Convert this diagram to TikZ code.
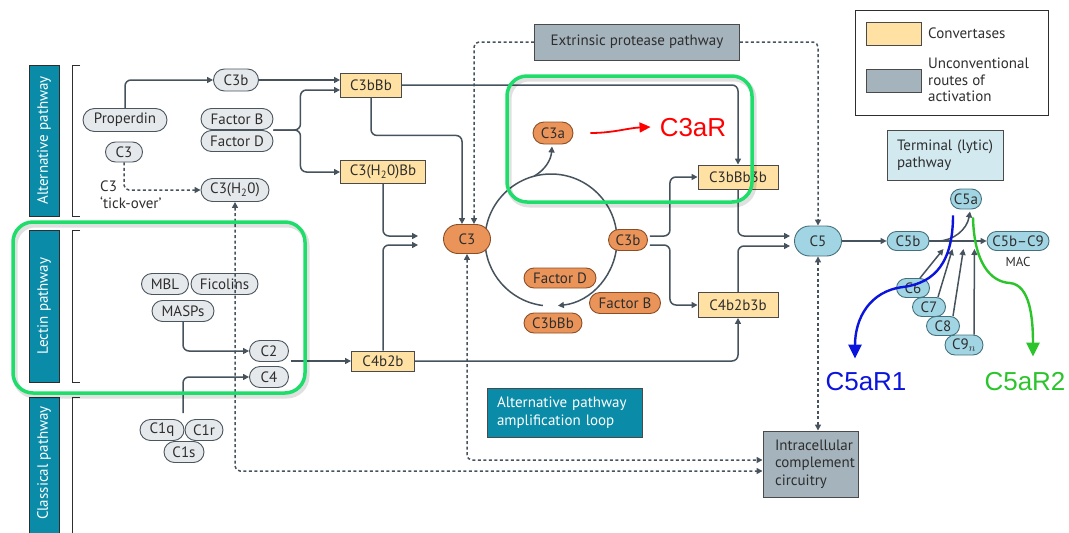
\documentclass[tikz,border=0pt]{standalone}
\usepackage{fontspec}
\setmainfont{PT Sans}
\newfontfamily\labelfont{Liberation Sans}
\usetikzlibrary{arrows.meta, shapes.misc, calc, backgrounds}

\definecolor{linec}{HTML}{46535D}
\definecolor{pillfill}{HTML}{E6E9EC}
\definecolor{pillline}{HTML}{4A555E}
\definecolor{orfill}{HTML}{EA945A}
\definecolor{orline}{HTML}{8A4E26}
\definecolor{convfill}{HTML}{FFE1A3}
\definecolor{convline}{HTML}{4A4A4A}
\definecolor{uncfill}{HTML}{A5B3BC}
\definecolor{bluefill}{HTML}{A2D5E3}
\definecolor{blueline}{HTML}{44707C}
\definecolor{termfill}{HTML}{D2E9F0}
\definecolor{tealc}{HTML}{0A8CA8}
\definecolor{txtc}{HTML}{2E2E2E}
\definecolor{hlgreen}{HTML}{1EDD6A}
\definecolor{recblue}{HTML}{0A14DC}
\definecolor{recgreen}{HTML}{2BC42B}
\definecolor{recred}{HTML}{FF0000}

\tikzset{
  wh/.style 2 args={minimum width=#1, minimum height=#2},
  pill/.style={rounded rectangle, draw=pillline, fill=pillfill, line width=0.9pt,
    inner sep=0pt, text=txtc, font=\fontsize{15}{17}\selectfont},
  opill/.style={pill, draw=orline, fill=orfill},
  bpill/.style={pill, draw=blueline, fill=bluefill},
  conv/.style={rectangle, draw=convline, fill=convfill, line width=0.9pt,
    inner sep=0pt, text=txtc, font=\fontsize{15}{17}\selectfont},
  unconv/.style={conv, fill=uncfill},
  sidebox/.style={rectangle, draw=txtc, fill=tealc, line width=0.9pt, rotate=90,
    inner sep=0pt, text=white, font=\fontsize{15}{17}\selectfont},
  lbl/.style={text=txtc, inner sep=0pt, font=\fontsize{15}{17}\selectfont},
  rec/.style={inner sep=0pt, font=\labelfont\fontsize{26}{28}\selectfont},
}

\begin{document}
\begin{tikzpicture}[x=1pt, y=-1pt, >={Triangle[length=6pt,width=6pt]},
  flow/.style={draw=linec, line width=1.5pt, rounded corners=6pt, ->},
  flowline/.style={draw=linec, line width=1.5pt},
  dline/.style={draw=linec, line width=1.5pt, dash pattern=on 3pt off 2.5pt, rounded corners=5pt},
  bracket/.style={draw=txtc, line width=1pt},
  greenbox/.style={draw=hlgreen, line width=3.5pt, rounded corners=20pt},
  greenshadow/.style={draw=black, opacity=0.12, line width=5pt, rounded corners=20pt},
  recarrow/.style={line width=2.4pt, -{Triangle[length=14pt,width=13pt]}}]

\useasboundingbox (0,0) rectangle (1069,533);
\clip (0,0) rectangle (1069,533);

% pathway bands
\node[sidebox, wh={151}{30}] (altlab) at (44,140.5) {Alternative pathway};
\node[sidebox, wh={152}{30}] (lectlab) at (44,306) {Lectin pathway};
\node[sidebox, wh={150}{30}] (classlab) at (44,472) {};
\node[lbl, text=white, rotate=90] (classtxt) at (44,463) {Classical pathway};
\draw[bracket] (80,65) -| (72,216) -- (80,216);
\draw[bracket] (80,230) -| (72,382) -- (80,382);
\draw[bracket] (80,397) -| (72,545);

% alternative pathway
\node[pill, wh={45}{22}] (c3b) at (236,80) {C3b};
\node[pill, wh={84}{23}] (prop) at (125,120) {Properdin};
\node[pill, wh={37}{20}] (c3s) at (124,152) {C3};
\node[pill, wh={72}{21}] (fb) at (237,119) {Factor B};
\node[pill, wh={72}{21}] (fd) at (237,141) {Factor D};
\node[pill, wh={68}{23}] (c3h2o) at (235,190) {C3(H\textsubscript{2}0)};
\node[lbl, anchor=north west, align=left] (tick) at (100,181) {C3\\‘tick-over’};

% lectin and classical pathway
\node[pill, wh={47}{21}] (mbl) at (165,284) {MBL};
\node[pill, wh={67}{21}] (fic) at (224.5,284) {Ficolins};
\node[pill, wh={62}{21}] (masp) at (183,311) {MASPs};
\node[pill, wh={39}{21}] (c2) at (269,351) {C2};
\node[pill, wh={39}{21}] (c4) at (269,377) {C4};
\node[pill, wh={44}{21}] (c1q) at (162,430) {C1q};
\node[pill, wh={38}{21}] (c1r) at (204,430) {C1r};
\node[pill, wh={40}{21}] (c1s) at (184,452) {C1s};

% convertases
\node[conv, wh={61}{24}] (c3bbb) at (371,85) {C3bBb};
\node[conv, wh={85}{23}] (c3h2obb) at (383,172) {C3(H\textsubscript{2}0)Bb};
\node[conv, wh={63}{20}] (c4b2b) at (383,361) {C4b2b};
\node[conv, wh={80}{24}] (c3bbb3b) at (738,177) {C3bBb3b};
\node[conv, wh={80}{25}] (c4b2b3b) at (738,305) {C4b2b3b};

% amplification loop
\node[opill, wh={47}{29}] (c3o) at (467,239) {C3};
\node[opill, wh={39}{21}] (c3bo) at (628,240) {C3b};
\node[opill, wh={40}{22}] (c3a) at (553,133) {C3a};
\node[opill, wh={72}{20}] (fdo) at (560,278) {Factor D};
\node[opill, wh={71}{21}] (fbo) at (625,303) {Factor B};
\node[opill, wh={58}{20}] (c3bbbo) at (553,323) {C3bBb};
\coordinate (loop) at (551,240);
\begin{pgfonlayer}{background}
\draw[flowline] (loop) ++(180:66) arc[start angle=180, end angle=360, radius=66];
\draw[flowline, ->] (loop) ++(0:66) arc[start angle=0, end angle=84, radius=66];
\draw[flowline] (loop) ++(97:66) arc[start angle=97, end angle=180, radius=66];
\end{pgfonlayer}
\coordinate (c3abr) at ($(loop)+(255:66)$);
\draw[flowline, ->] (c3abr) .. controls (545,170) and (551,160) .. ($(c3a.south)+(-1,2)$);

% unconventional routes
\node[unconv, wh={205}{36}, anchor=west, inner xsep=11pt] (extr) at (534,42) {Extrinsic protease pathway};
\node[unconv, wh={95}{66}, align=left, text width=71pt, inner xsep=12pt,
  font=\fontsize{15}{17.5}\selectfont] (intra) at (810.5,464) {Intracellular\\complement\\circuitry};
\node[conv, fill=tealc, text=white, wh={155}{49}, align=left, text width=135pt, inner xsep=10pt,
  font=\fontsize{15}{18}\selectfont] (ampl) at (564.5,412.5) {Alternative pathway\\amplification loop};

% terminal pathway
\node[conv, fill=termfill, wh={116}{50}, align=left, text width=96pt, inner xsep=10pt,
  font=\fontsize{15}{17}\selectfont] (term) at (945,155) {Terminal (lytic)\\pathway};
\node[bpill, wh={47}{30}] (c5) at (818,241) {C5};
\node[bpill, wh={42}{19}] (c5b) at (908,241) {C5b};
\node[bpill, wh={31}{20}] (c5a) at (966,199) {C5a};
\node[bpill, wh={62}{19}] (c5b9) at (1018,241) {C5b--C9};
\node[lbl, font=\fontsize{13}{15}\selectfont] (mac) at (1018,262) {MAC};
\node[bpill, wh={33}{19}] (c6) at (913,288) {C6};
\node[bpill, wh={33}{19}] (c7) at (929,307) {C7};
\node[bpill, wh={33}{19}] (c8) at (943,326) {C8};
\node[bpill, wh={38}{20}] (c9) at (964,345) {C9$_n$};

% legend
\node[draw=txtc, line width=1pt, fill=white, wh={193}{105}] (legend) at (951.5,62.5) {};
\node[conv, wh={55}{23}] (legconv) at (893.5,33.5) {};
\node[unconv, wh={55}{23}] (legunc) at (893.5,80.5) {};
\node[lbl, anchor=west] (legconvtxt) at (928,33) {Convertases};
\node[lbl, anchor=west, align=left, font=\fontsize{15}{16.5}\selectfont] (leguntxt) at (928,80) {Unconventional\\routes of\\activation};

% connectors
\draw[flow] (prop.north) |- (c3b.west);
\draw[dline, ->] (c3s.south) |- (c3h2o.west);
\draw[flow] (c3b.east) -- (c3b.east -| c3bbb.west);
\coordinate (fbd) at ($(fb.east)!0.5!(fd.east)$);
\draw[flow] (fbd) -- ++(27,0) |- ($(c3bbb.west)+(0,5)$);
\draw[flow] (fbd) -- ++(27,0) |- (c3h2obb.west);
\draw[flow] (masp.south) |- (c2.west);
\draw[flow] ($(c1q.north)!0.5!(c1r.north)+(0,-6)$) |- (c4.west);
\draw[flow] (c4b2b.west -| c2.east) ++(2,0) -- (c4b2b.west);
\draw[flow] (c3bbb.south) -- ++(0,38) -| ($(c3o.north)+(-5,0)$);
\draw[dline, ->] (extr.west) -| ($(c3o.north)+(7,0)$);
\draw[dline, ->] (extr.east) -| (c5.north);
\coordinate (c3in1) at ($(c3o.west)+(-25,-3)$);
\coordinate (c3in2) at ($(c3o.west)+(-25,6)$);
\draw[flow] (c3h2obb.south) |- (c3in1);
\draw[flow] (c4b2b.north) |- (c3in2);
\draw[flow] (c4b2b.east) -| (c4b2b3b.south);
\draw[flow] (c3bbb.east) -| (c3bbb3b.north);
\draw[flow] ($(c3bo.east)+(2,-4)$) -- ++(20,0) |- (c3bbb3b.west);
\draw[flow] ($(c3bo.east)+(2,5)$) -- ++(20,0) |- (c4b2b3b.west);
\coordinate (c5in1) at ($(c5.west)+(-4,-5)$);
\coordinate (c5in2) at ($(c5.west)+(-4,5)$);
\draw[flow] (c3bbb3b.south) |- (c5in1);
\draw[flow] (c4b2b3b.north) |- (c5in2);
\draw[flow] (c5.east) -- (c5b.west);
\draw[flow] (c5b.east) -- (c5b9.west);
\coordinate (c5abr) at ($(c5b.east)+(8,0)$);
\draw[flowline, ->] (c5abr) .. controls ($(c5abr)+(16,0)$) and ($(c5a.south)+(1,20)$) .. ($(c5a.south)+(4,2)$);
\coordinate (t6) at ($(c5b.east)+(14,8)$);
\coordinate (t7) at ($(c5b.east)+(23,8)$);
\coordinate (t8) at ($(c5b.east)+(34,8)$);
\coordinate (t9) at ($(c5b.east)+(45,8)$);
\draw[flow] ($(c6.north)+(7,0)$) -- (t6);
\draw[flow] ($(c7.north)+(9,0)$) -- (t7);
\draw[flow] ($(c8.north)+(10,0)$) -- (t8);
\draw[flow] ($(c9.north)+(10,0)$) -- (t9);
\draw[dline, <->] (c5.south) -- (c5.south |- intra.north);
\draw[dline, <->] (c3o.south) |- ($(intra.west)+(0,-4)$);
\draw[dline, <->] (c3h2o.south) |- ($(intra.west)+(0,7)$);

% receptors
\node[rec, text=recred] (c3ar) at (693,128) {C3aR};
\node[rec, text=recblue] (c5ar1) at (866,382) {C5aR1};
\node[rec, text=recgreen] (c5ar2) at (1025,382) {C5aR2};
\draw[recred, line width=1.8pt, -{Triangle[length=11pt,width=10pt]}] ($(c3a.east)+(17,0)$)
  .. controls ($(c3a.east)+(40,0)$) and ($(c3ar.west)+(-32,0)$) .. ($(c3ar.west)+(-9,-1)$);
\coordinate (b1) at ($(c5a.south)+(-13,6)$);
\coordinate (b1end) at ($(c5ar1.north)+(-11,-14)$);
\draw[recblue, recarrow] (b1) .. controls (953,262) and (935,283) .. (903,287)
  .. controls (870,291) and (855,318) .. (b1end);
\coordinate (g1) at ($(c5a.south)+(7,8)$);
\coordinate (g1end) at ($(c5ar2.north)+(8,-16)$);
\draw[recgreen, recarrow] (g1) .. controls (974,262) and (990,282) .. (1010,283)
  .. controls (1030,285) and (1033,318) .. (g1end);

% highlights
\draw[greenshadow] (15,225) rectangle (307,396);
\draw[greenshadow] (509,79) rectangle (754,205);
\draw[greenbox] (13,222) rectangle (305,393);
\draw[greenbox] (507,76) rectangle (752,202);

\end{tikzpicture}
\end{document}
